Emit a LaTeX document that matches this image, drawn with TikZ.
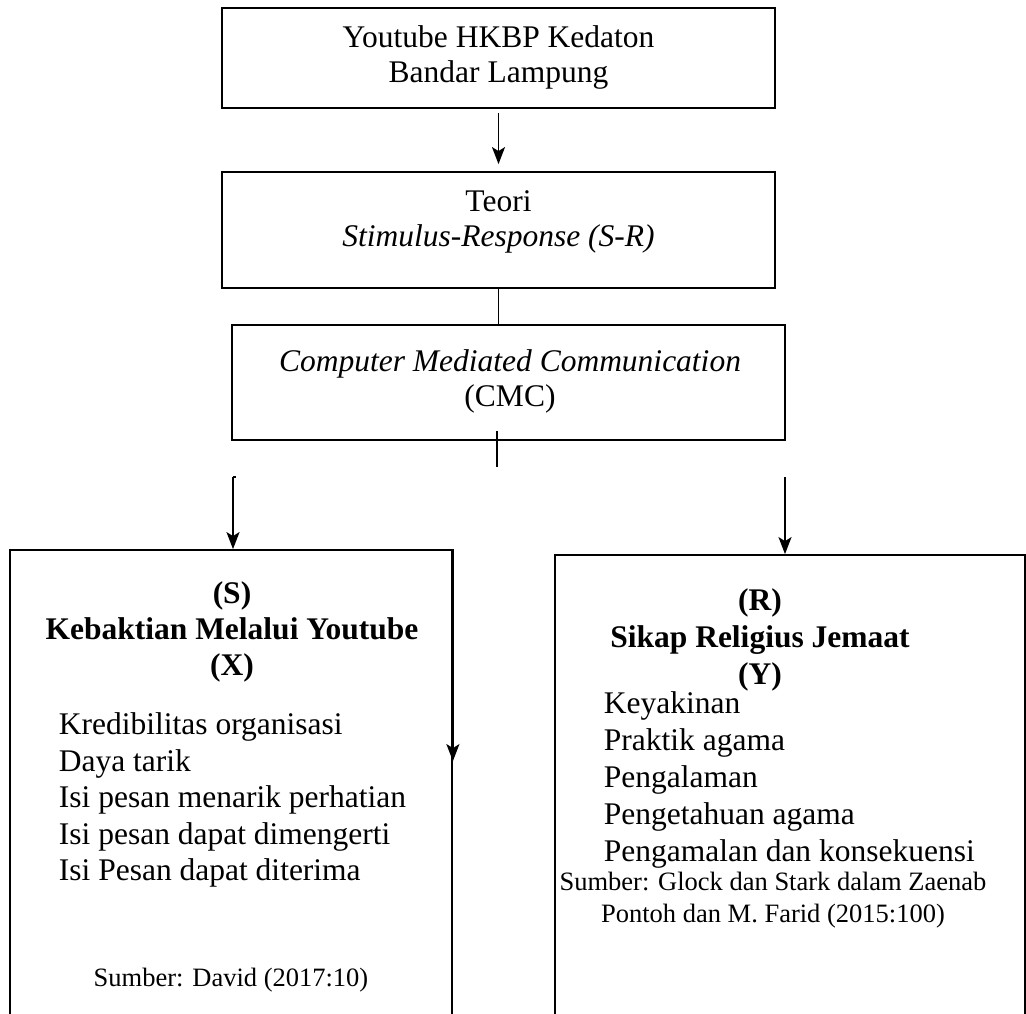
\documentclass[tikz,border=0pt]{standalone}
\usepackage{fontspec}
\setmainfont{Liberation Serif}
\usetikzlibrary{arrows.meta,calc}
\begin{document}
\begin{tikzpicture}[x=1pt,y=-1pt, line width=1.8pt,
  box/.style={draw, rectangle, inner sep=0pt},
  txt/.style={font=\fontsize{31.5}{35}\selectfont, align=center, inner sep=0pt},
  hdr/.style={font=\fontsize{31.5}{36}\selectfont\bfseries, align=center, inner sep=0pt},
  lst/.style={font=\fontsize{31.5}{36.5}\selectfont, align=left, inner sep=0pt, anchor=west},
  src/.style={font=\fontsize{26.5}{32}\selectfont, align=center, inner sep=0pt},
  arr/.style={-{Stealth[length=17pt,width=13pt,inset=4pt]}},
]
\useasboundingbox (0,0) rectangle (1026,1014);
\clip (0,0) rectangle (1026,1014);

% boxes
\node[box, minimum width=553pt, minimum height=100pt] (b1) at (498.5,58) {};
\node[box, minimum width=553pt, minimum height=116pt] (b2) at (498.5,230) {};
\node[box, minimum width=553pt, minimum height=115pt] (b3) at (508.5,382.5) {};
\node[box, minimum width=442pt, minimum height=490pt] (sbox) at (231,795) {};
\node[box, minimum width=470pt, minimum height=485pt] (rbox) at (790,797.5) {};

% texts
\node[txt] (t1) at (498.5,57) {Youtube HKBP Kedaton\\Bandar Lampung};
\node[txt] (t2) at (498.5,222) {Teori\\\textit{Stimulus-Response (S-R)}};
\node[txt] (t3) at (510,381) {\textit{Computer Mediated Communication}\\(CMC)};
\node[hdr] (sh) at (232,632) {(S)\\Kebaktian Melalui Youtube\\(X)};
\node[lst] (sl) at (58,800) {Kredibilitas organisasi\\Daya tarik\\Isi pesan menarik perhatian\\Isi pesan dapat dimengerti\\Isi Pesan dapat diterima};
\node[src] (ss) at (231,980) {Sumber: David (2017:10)};
\node[hdr, font=\fontsize{31.5}{37}\selectfont\bfseries] (rh) at (760,640) {(R)\\Sikap Religius Jemaat\\(Y)};
\node[lst, font=\fontsize{31.5}{37}\selectfont] (rl) at (603,780) {Keyakinan\\Praktik agama\\Pengalaman\\Pengetahuan agama\\Pengamalan dan konsekuensi};
\node[src] (rs) at (773,900) {Sumber: Glock dan Stark dalam Zaenab\\Pontoh dan M. Farid (2015:100)};

% connectors
\draw[arr, shorten <=4pt, shorten >=7pt] (b1) -- (b2);
\draw (b2.south) -- (b2.south |- b3.north);
\coordinate (split) at (497,467);
\draw (split |- b3.south) ++(0,-10) -- (split);
\coordinate (lt) at (233,477);
\draw (lt) -- ++(3,0);
\draw[arr] (lt) -- (lt |- sbox.north);
\coordinate (rt) at (785,477);
\draw[arr] (rt) -- (rt |- rbox.north);
\draw[arr] (sbox.north east) -- ++(0,212);
\end{tikzpicture}
\end{document}
